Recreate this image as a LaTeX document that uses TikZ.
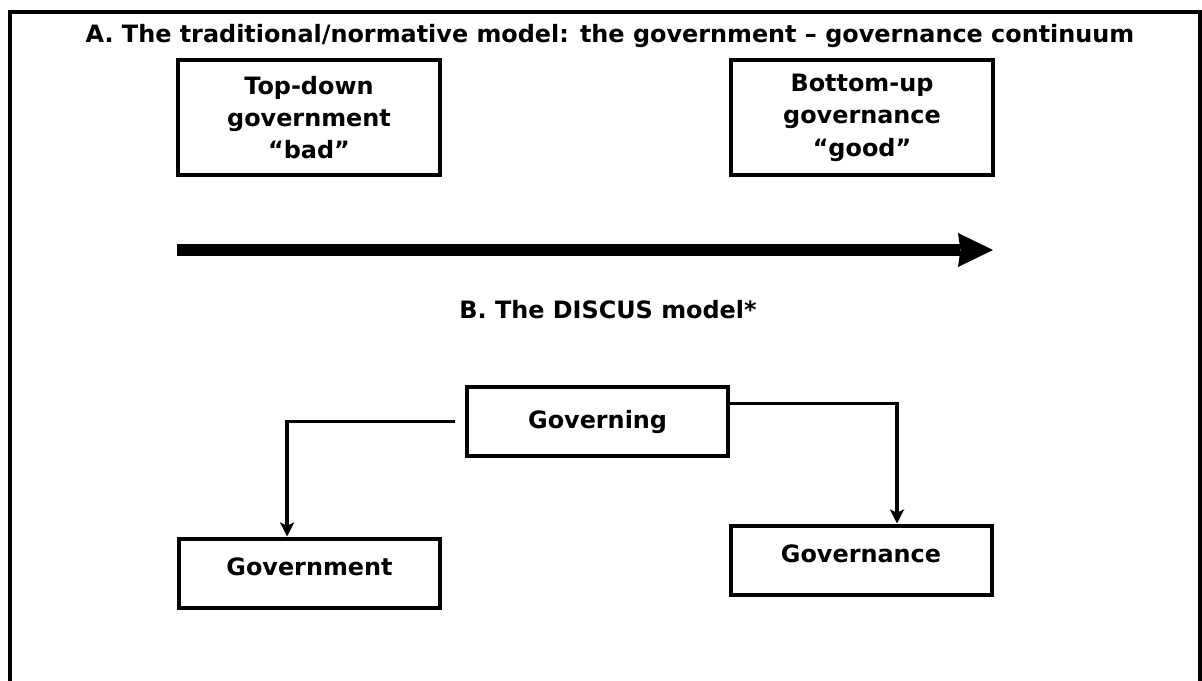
\documentclass[tikz,border=0pt]{standalone}
\usepackage{fontspec}
\setmainfont{DejaVu Sans}
\usetikzlibrary{arrows.meta}
\tikzstyle{bigbox}=[draw,rectangle,line width=2.85pt,minimum width=6.55cm,minimum height=2.875cm,inner sep=0pt,align=center]
\tikzstyle{box}=[draw,rectangle,line width=2.85pt,minimum width=6.525cm,minimum height=1.725cm,inner sep=0pt]
\tikzstyle{lowbox}=[box,text depth=0.32cm]
\tikzstyle{heading}=[font=\fontsize{17}{23}\selectfont\bfseries]
\tikzstyle{link} = [draw,line width=2.4pt,-{Stealth[length=0.35cm,width=0.35cm,inset=0.08cm]}]

\begin{document}
\begin{tikzpicture}[heading]

    \useasboundingbox (0,0) rectangle (30.05,-17);

    % outer frame, runs off the page on the right and bottom
    \draw[line width=2.85pt] (0.25,-0.3) rectangle (30.0,-17.6);

    \node[anchor=base] (titleA) at (15.25,-1.05) {A. The traditional/normative model: the government – governance continuum};

     \foreach \x/\y/\name/\txt in {7.725/-2.94/topdown/{Top-down\\government\\“bad”}, 21.55/-2.94/bottomup/{Bottom-up\\governance\\“good”}}
        \node[bigbox] (\name) at (\x, \y) {\txt};

    % continuum arrow
    \coordinate (from) at (4.425,-6.25);
    \coordinate (to) at (24.825,-6.25);
    \draw[line width=0.3cm,-{Stealth[length=0.875cm,width=0.85cm,inset=0.06cm,line width=0pt]}] (from) -- (to);

    \node[anchor=base] (titleB) at (15.2,-7.95) {B. The DISCUS model*};

    \node[box] (governing) at (14.94,-10.54) {Governing};

     \foreach \x/\y/\name/\txt in {7.7375/-14.325/government/Government, 21.525/-14.0/governance/Governance}
        \node[lowbox] (\name) at (\x, \y) {\txt};

    \path[link] ([xshift=-0.25cm]governing.west) -| ([xshift=-0.56cm]government.north);
    \path[link] ([yshift=0.46cm]governing.east) -| ([xshift=0.9cm]governance.north);

\end{tikzpicture}
\end{document}
